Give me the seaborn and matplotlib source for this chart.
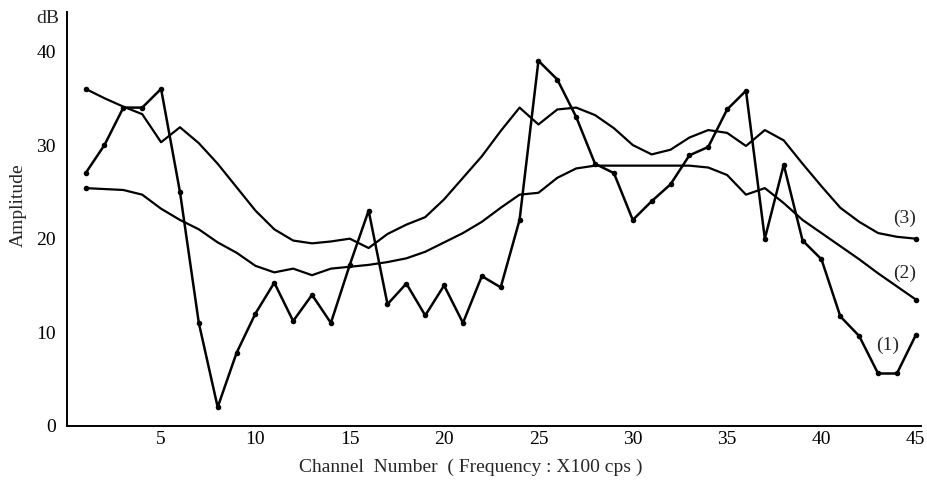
import numpy as np
import pandas as pd
import matplotlib
matplotlib.use("Agg")
import matplotlib.pyplot as plt
import seaborn as sns

# Channel numbers 1..45
channels = list(range(1, 46))

# Curve (1): measured spectrum, one dot per channel
amp1 = [27, 30, 34, 34, 36, 25, 11, 2, 7.8, 12,
        15.3, 11.2, 14, 11, 17.2, 23, 13, 15.2, 11.8, 15,
        11, 16, 14.8, 22, 39, 37, 33, 28, 27, 22,
        24, 25.8, 28.9, 29.8, 33.8, 35.8, 20, 27.9, 19.8, 17.8,
        11.7, 9.6, 5.6, 5.6, 9.7]

# Curve (2): lower smooth envelope
amp2 = [25.4, 25.3, 25.2, 24.7, 23.2, 22, 21, 19.6, 18.5, 17.1,
        16.4, 16.8, 16.1, 16.8, 17, 17.2, 17.5, 17.9, 18.6, 19.6,
        20.6, 21.8, 23.3, 24.7, 24.9, 26.5, 27.5, 27.8, 27.8, 27.8,
        27.8, 27.8, 27.8, 27.6, 26.8, 24.7, 25.4, 23.8, 22, 20.6,
        19.2, 17.8, 16.3, 14.9, 13.5]

# Curve (3): upper smooth envelope
amp3 = [36, 35, 34.1, 33.3, 30.3, 31.9, 30.2, 28, 25.5, 23,
        21, 19.8, 19.5, 19.7, 20, 19, 20.5, 21.5, 22.3, 24.2,
        26.5, 28.8, 31.5, 34, 32.2, 33.8, 34, 33.2, 31.8, 30,
        29, 29.5, 30.8, 31.6, 31.3, 29.9, 31.6, 30.5, 28, 25.6,
        23.3, 21.8, 20.6, 20.2, 20]

curve_labels = ["(1)", "(2)", "(3)"]
x_ticks = [5, 10, 15, 20, 25, 30, 35, 40, 45]
y_ticks = [0, 10, 20, 30, 40]

df = pd.DataFrame({"channel": channels, "c1": amp1, "c2": amp2, "c3": amp3})

sns.set_style("white")
plt.rcParams["font.family"] = ["Liberation Serif", "DejaVu Serif"]

fig = plt.figure(figsize=(9.27, 4.84), dpi=100)
ax = fig.add_axes([0.072, 0.12, 0.921, 0.855])

sns.lineplot(data=df, x="channel", y="c1", ax=ax, color="black", lw=1.8,
             marker="o", markersize=4, markeredgewidth=0)
sns.lineplot(data=df, x="channel", y="c2", ax=ax, color="black", lw=1.6,
             marker="o", markersize=4, markeredgewidth=0, markevery=[0, 44])
sns.lineplot(data=df, x="channel", y="c3", ax=ax, color="black", lw=1.6,
             marker="o", markersize=4, markeredgewidth=0, markevery=[0, 44])

# curve labels near the right end
ax.text(43.5, 8.6, curve_labels[0], ha="center", va="center", fontsize=14)
ax.text(44.4, 16.3, curve_labels[1], ha="center", va="center", fontsize=14)
ax.text(44.4, 22.2, curve_labels[2], ha="center", va="center", fontsize=14)

ax.set_xlim(0, 45.25)
ax.set_ylim(0, 44.2)
ax.set_xticks(x_ticks)
ax.set_yticks(y_ticks)
ax.tick_params(direction="in", length=6, width=1.2, labelsize=14, colors="black")
ax.tick_params(axis="y", pad=8)
for s in ["top", "right"]:
    ax.spines[s].set_visible(False)
for s in ["left", "bottom"]:
    ax.spines[s].set_color("black")
    ax.spines[s].set_linewidth(1.4)

ax.set_xlabel("Channel  Number  ( Frequency : X100 cps )", fontsize=14)
ax.xaxis.set_label_coords(0.473, -0.08)
ax.set_ylabel("Amplitude", fontsize=14)
ax.yaxis.set_label_coords(-0.047, 0.534)
ax.text(-0.022, 0.985, "dB", transform=ax.transAxes, ha="center", va="center", fontsize=14)

fig.savefig("out.png", dpi=100)
